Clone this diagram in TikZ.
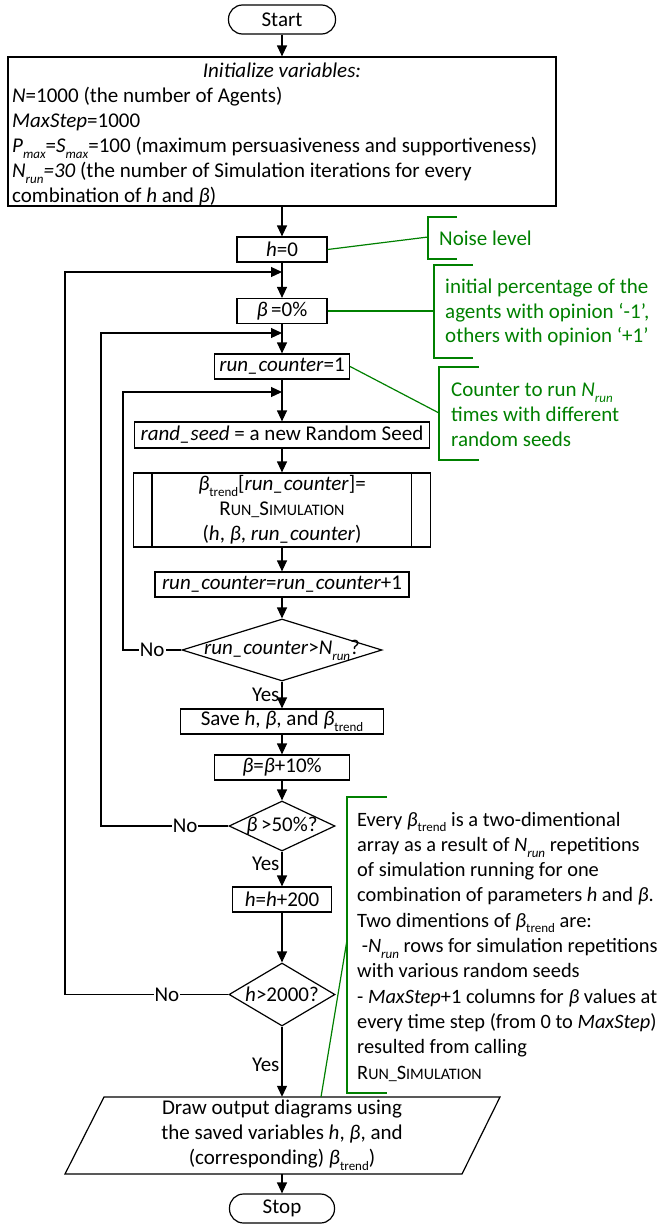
\documentclass[tikz,border=0pt]{standalone}
\usepackage{fontspec}
\setmainfont{Carlito}
\usetikzlibrary{arrows.meta,shapes.geometric}
\definecolor{grn}{RGB}{0,128,0}
\newcommand{\mysub}[1]{\raisebox{-0.28em}{\fontsize{13}{13}\selectfont #1}}
\newcommand{\bt}{\textit{β}}
\newcommand{\btr}{\textit{β}\mysub{trend}}
\newcommand{\rsim}{R{\fontsize{16}{16}\selectfont UN\_}S{\fontsize{16}{16}\selectfont IMULATION}}
\begin{document}
\begin{tikzpicture}[x=1pt,y=-1pt,
 every node/.style={font=\fontsize{21}{25}\selectfont},
 box/.style={draw, line width=1.2pt, inner sep=0pt, minimum height=25pt},
 term/.style={box, rounded corners=14pt, minimum height=29pt},
 dia/.style={draw, diamond, line width=1.2pt, inner sep=0pt},
 arr/.style={line width=1.2pt, -{Triangle[length=11pt,width=10pt]}},
 gline/.style={draw=grn, line width=1.2pt},
 note/.style={text=grn, align=left, inner sep=0pt, anchor=west},
 lab/.style={fill=white, inner sep=1pt},
]
\useasboundingbox (0,0) rectangle (665,1226);

% main column
\node[term, minimum width=107pt] (start) at (282,19.5) {Start};
\node[box, minimum width=548pt, minimum height=149pt] (init) at (282,131.5) {};
\node[inner sep=0pt] (inittitle) at (282,70) {\textit{Initialize variables:}};
\node[align=left, inner sep=0pt, anchor=west] (inittext) at (12,147) {%
\textit{N}=1000 (the number of Agents)\\
\textit{MaxStep}=1000\\
\textit{P}\mysub{\textit{max}}=\textit{S}\mysub{\textit{max}}=100 (maximum persuasiveness and supportiveness)\\
\textit{N}\mysub{\textit{run}}\textit{=30} (the number of Simulation iterations for every\\
combination of \textit{h} and \bt)};
\node[box, minimum width=90pt] (hbox) at (282,249.5) {\textit{h}=0};
\node[box, minimum width=90pt] (bbox) at (282,311) {\bt\,=0\%};
\node[box, minimum width=135pt] (rc1) at (282,366.5) {\textit{run\_counter}=1};
\node[box, minimum width=295pt, minimum height=26pt] (seed) at (282,435) {\textit{rand\_seed} = a new Random Seed};
\node[box, minimum width=297pt, minimum height=74pt, align=center] (sim) at (282,510) {\btr[\textit{run\_counter}]=\\ \rsim\\ (\textit{h}, \bt, \textit{run\_counter})};
\draw[line width=1.2pt] ([xshift=19pt]sim.north west) -- ([xshift=19pt]sim.south west);
\draw[line width=1.2pt] ([xshift=-20pt]sim.north east) -- ([xshift=-20pt]sim.south east);
\node[box, minimum width=254pt] (rcinc) at (282,584.5) {\textit{run\_counter}=\textit{run\_counter}+1};
\node[dia, minimum width=200pt, minimum height=62pt, label={center:\textit{run\_counter}>\textit{N}\mysub{\textit{run}}?}] (d1) at (282,650) {};
\node[box, minimum width=203pt] (save) at (282,721.5) {Save \textit{h}, \bt, and \btr};
\node[box, minimum width=135pt] (binc) at (282,767.5) {\bt=\bt+10\%};
\node[dia, minimum width=106pt, minimum height=50pt, label={center:\bt\,>50\%?}] (d2) at (282,826) {};
\node[box, minimum width=99pt] (hinc) at (282,899.5) {\textit{h}=\textit{h}+200};
\node[dia, minimum width=106pt, minimum height=63pt, label={center:\textit{h}>2000?}] (d3) at (282,994.5) {};
\node[minimum width=300pt, minimum height=77pt, inner sep=0pt, align=center] (para) at (282,1135.5) {Draw output diagrams using\\ the saved variables \textit{h}, \bt, and\\ (corresponding) \btr)};
\draw[line width=1.2pt] (104,1097) -- (500,1097) -- (462,1174) -- (65,1174) -- cycle;
\node[term, minimum width=105pt] (stop) at (282,1208.5) {Stop};

% main arrows
\draw[arr] (start) -- (init);
\draw[arr] (init) -- (hbox);
\draw[arr] (hbox) -- (bbox);
\draw[arr] (bbox) -- (rc1);
\draw[arr] (rc1) -- (seed);
\draw[arr] (seed) -- (sim);
\draw[arr] (sim) -- (rcinc);
\draw[arr] (rcinc) -- (d1);
\draw[arr] (d1) -- node[pos=0.5, anchor=east, inner sep=2pt] (yes1) {Yes} (save);
\draw[arr] (save) -- (binc);
\draw[arr] (binc) -- (d2);
\draw[arr] (d2) -- node[pos=0.35, anchor=east, inner sep=2pt] (yes2) {Yes} (hinc);
\draw[arr] (hinc) -- (d3);
\draw[arr] (d3.south) -- node[pos=0.55, anchor=east, inner sep=2pt] (yes3) {Yes} (para.north);
\draw[arr] (para.south) -- (stop);

% loops
\coordinate (j1) at (282,272);
\coordinate (j2) at (282,333);
\coordinate (j3) at (282,392);
\draw[arr] (d1.west) -- node[lab] (no1) {No} (123,650) -- (123,392) -- (j3);
\draw[arr] (d2.west) -- node[lab, pos=0.34] (no2) {No} (101,826) -- (101,333) -- (j2);
\draw[arr] (d3.west) -- node[lab, pos=0.376] (no3) {No} (65,994.5) -- (65,272) -- (j1);

% annotations
\coordinate (c1) at (428,237);
\draw[gline] (457,217) -- (428,217) -- (428,259) -- (457,259);
\draw[gline] (hbox.east) -- (c1);
\node[note] (n1) at (439,238) {Noise level};

\coordinate (c2) at (434,311);
\draw[gline] (473,265) -- (434,265) -- (434,358) -- (473,358);
\draw[gline] (bbox.east) -- (c2);
\node[note, font=\fontsize{21}{24.5}\selectfont] (n2) at (445,312.5) { initial percentage of the\\agents with opinion ‘-1’,\\others with opinion ‘+1’};

\coordinate (c3) at (439,413);
\draw[gline] (479,367) -- (439,367) -- (439,460) -- (479,460);
\draw[gline] (rc1.east) -- (c3);
\node[note] (n3) at (451,414.5) {Counter to run \textit{N}\mysub{\textit{run}}\\times with different\\random seeds};

\coordinate (c4) at (347,940);
\coordinate (c5) at (321,1097);
\draw[gline] (387,797) -- (347,797) -- (347,1093) -- (387,1093);
\draw[gline] (c5) -- (c4);
\node[align=left, inner sep=0pt, anchor=west, font=\fontsize{20.4}{25.3}\selectfont] (n4) at (357,946.5) {%
Every \btr{} is a two-dimentional\\
array as a result of \textit{N}\mysub{\textit{run}} repetitions\\
of simulation running for one\\
combination of parameters \textit{h} and \bt.\\
Two dimentions of \btr{} are:\\
\ -\textit{N}\mysub{\textit{run}} rows for simulation repetitions\\
with various random seeds\\
- \textit{MaxStep}+1 columns for \bt{} values at\\
every time step (from 0 to \textit{MaxStep})\\
resulted from calling\\
\rsim};
\end{tikzpicture}
\end{document}
